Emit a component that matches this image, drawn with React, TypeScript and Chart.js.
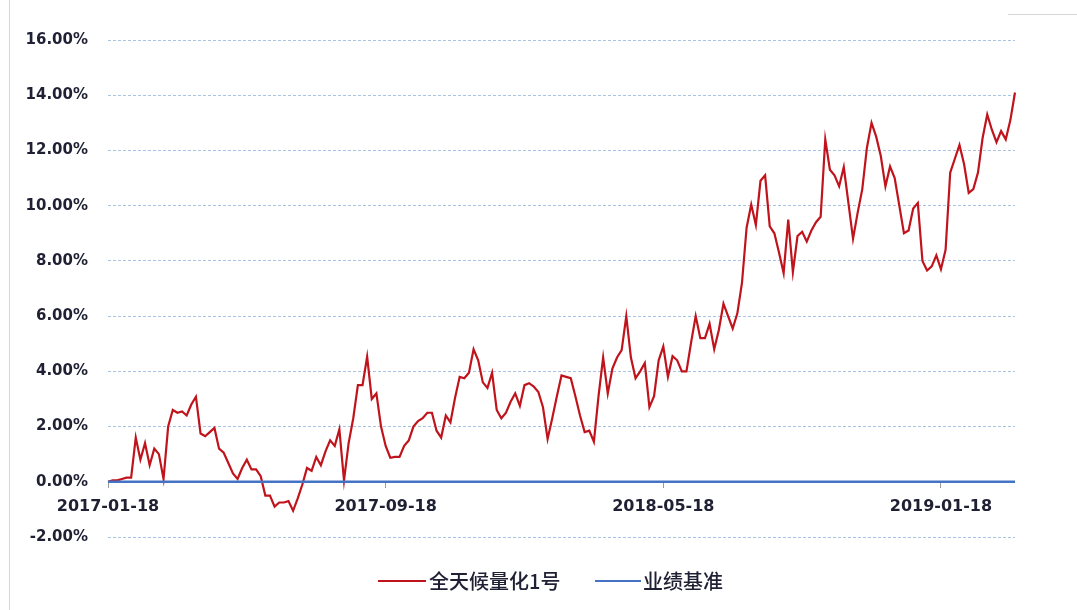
import React, { useEffect, useRef } from "react";
import { Chart, registerables } from "chart.js";

Chart.register(...registerables);

// Tick labels shown on the category axis (every `tickEvery` points)
const tickLabels = ["2017-01-18", "2017-09-18", "2018-05-18", "2019-01-18"];
const tickEvery = 60;

// 全天候量化1号 cumulative return (%)
const returns = [
  0.0, 0.05, 0.05, 0.1, 0.15, 0.15, 1.6, 0.8, 1.4, 0.6,
  1.2, 1.0, 0.1, 2.0, 2.6, 2.5, 2.55, 2.4, 2.8, 3.08,
  1.75, 1.65, 1.8, 1.95, 1.2, 1.05, 0.68, 0.3, 0.1, 0.5,
  0.8, 0.45, 0.45, 0.2, -0.5, -0.5, -0.9, -0.75, -0.75, -0.7,
  -1.05, -0.6, -0.1, 0.5, 0.4, 0.9, 0.6, 1.1, 1.5, 1.3,
  1.9, 0.05, 1.4, 2.3, 3.5, 3.5, 4.53, 3.0, 3.2, 2.0,
  1.3, 0.87, 0.9, 0.9, 1.3, 1.5, 2.0, 2.2, 2.3, 2.5,
  2.5, 1.85, 1.6, 2.4, 2.15, 3.04, 3.8, 3.75, 3.95, 4.8,
  4.4, 3.6, 3.4, 3.95, 2.6, 2.3, 2.5, 2.9, 3.2, 2.75,
  3.5, 3.57, 3.45, 3.25, 2.7, 1.55, 2.3, 3.1, 3.85, 3.8,
  3.75, 3.1, 2.4, 1.8, 1.85, 1.45, 3.1, 4.5, 3.2, 4.1,
  4.5, 4.77, 6.0, 4.5, 3.75, 4.0, 4.3, 2.7, 3.1, 4.4,
  4.9, 3.8, 4.55, 4.4, 4.0, 4.0, 5.04, 6.0, 5.2, 5.2,
  5.72, 4.8, 5.5, 6.45, 6.0, 5.55, 6.1, 7.2, 9.2, 10.04,
  9.3, 10.9, 11.1, 9.25, 9.0, 8.3, 7.56, 9.5, 7.6, 8.9,
  9.05, 8.7, 9.1, 9.4, 9.6, 12.4, 11.3, 11.1, 10.7, 11.4,
  10.1, 8.8, 9.75, 10.6, 12.1, 13.0, 12.5, 11.8, 10.7, 11.42,
  11.0, 10.0, 9.0, 9.1, 9.9, 10.1, 8.0, 7.65, 7.8, 8.2,
  7.7, 8.4, 11.2, 11.7, 12.2, 11.5, 10.46, 10.6, 11.2, 12.45,
  13.3, 12.75, 12.3, 12.7, 12.4, 13.1, 14.1,
];

// 业绩基准: flat at 0.00% throughout the picture
const benchmark = new Array(returns.length).fill(0);

const categories = returns.map((_, i) =>
  i % tickEvery === 0 ? tickLabels[i / tickEvery] ?? "" : ""
);

const RED = "#C0141C";
const BLUE = "#4472C4";
const TEXT = "#1f2033";

export default function App() {
  const ref = useRef<HTMLCanvasElement>(null);

  useEffect(() => {
    if (!ref.current) return;
    const chart = new Chart(ref.current, {
      type: "line",
      data: {
        labels: categories,
        datasets: [
          {
            label: "全天候量化1号",
            data: returns,
            borderColor: RED,
            backgroundColor: RED,
            borderWidth: 2.2,
            pointRadius: 0,
            tension: 0,
            order: 1,
          },
          {
            label: "业绩基准",
            data: benchmark,
            borderColor: BLUE,
            backgroundColor: BLUE,
            borderWidth: 2.5,
            pointRadius: 0,
            tension: 0,
            order: 0,
          },
        ],
      },
      options: {
        responsive: false,
        animation: false,
        layout: { padding: { top: 40, bottom: 73, left: 0, right: 62 } },
        plugins: {
          legend: { display: false },
          tooltip: { enabled: false },
        },
        scales: {
          x: {
            type: "category",
            position: { y: 0 } as any,
            offset: false,
            grid: {
              drawOnChartArea: false,
              drawTicks: true,
              tickLength: 6,
              color: "#9a9a9a",
            },
            border: { display: false },
            ticks: {
              autoSkip: false,
              maxRotation: 0,
              minRotation: 0,
              padding: 9,
              color: TEXT,
              font: { family: "DejaVu Sans", size: 16, weight: "bold" },
              callback: (_v: any, i: number) => (categories[i] ? categories[i] : null),
            },
          },
          y: {
            min: -2,
            max: 16,
            afterFit: (s: any) => {
              s.width = 108;
            },
            grid: {
              drawTicks: false,
              color: "rgba(140,175,220,0.75)",
              lineWidth: 1,
            },
            border: { display: false, dash: [3, 2] },
            ticks: {
              stepSize: 2,
              padding: 20,
              color: TEXT,
              font: { family: "DejaVu Sans", size: 15, weight: "bold" },
              callback: (v: any) => Number(v).toFixed(2) + "%",
            },
          },
        },
      },
    });
    return () => chart.destroy();
  }, []);

  const legendText: React.CSSProperties = {
    position: "absolute",
    top: 568,
    fontFamily: '"Noto Sans CJK SC", sans-serif',
    fontSize: 20,
    fontWeight: 500,
    lineHeight: "26px",
    color: TEXT,
    whiteSpace: "nowrap",
  };

  return (
    <div
      style={{
        position: "fixed",
        left: 0,
        top: 0,
        width: 1077,
        height: 610,
        background: "#fff",
        overflow: "hidden",
      }}
    >
      <canvas ref={ref} width={1077} height={610} style={{ display: "block" }} />
      <div style={{ position: "absolute", left: 9, top: 0, width: 1, height: 610, background: "#d6d6d6" }} />
      <div style={{ position: "absolute", left: 1008, top: 14, width: 69, height: 1, background: "#d6d6d6" }} />
      <div style={{ position: "absolute", left: 378, top: 580, width: 48, height: 2, background: RED }} />
      <span style={{ ...legendText, left: 429 }}>全天候量化1号</span>
      <div style={{ position: "absolute", left: 595, top: 580, width: 46, height: 2, background: BLUE }} />
      <span style={{ ...legendText, left: 643 }}>业绩基准</span>
    </div>
  );
}
